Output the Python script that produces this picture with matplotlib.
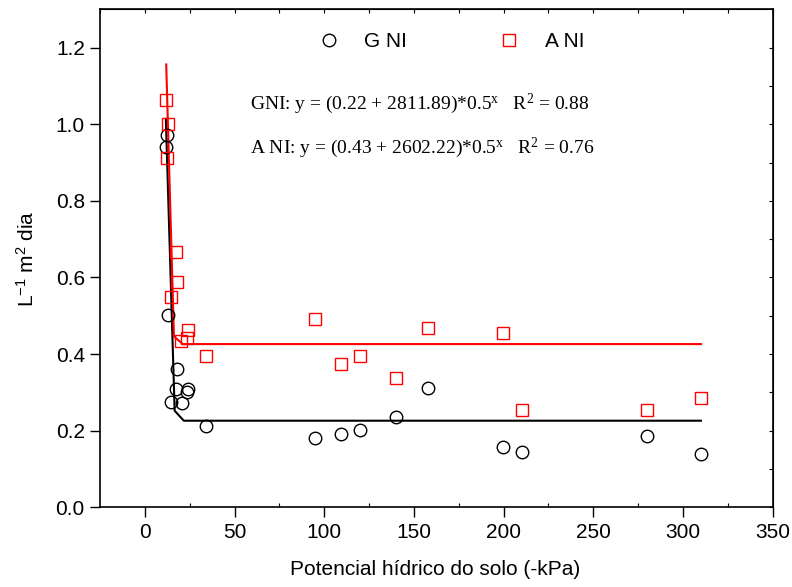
import matplotlib

matplotlib.use("Agg")
import matplotlib.pyplot as plt
from matplotlib import font_manager
from matplotlib.lines import Line2D

# pick a narrow sans if the system has one
names = {f.name for f in font_manager.fontManager.ttflist}
SANS = "Liberation Sans Narrow" if "Liberation Sans Narrow" in names else "Liberation Sans"
SERIF = "Liberation Serif"

plt.rcParams["font.family"] = [SANS, "DejaVu Sans"]
plt.rcParams["mathtext.fontset"] = "custom"
plt.rcParams["mathtext.rm"] = SERIF
plt.rcParams["mathtext.it"] = SERIF + ":italic"
plt.rcParams["mathtext.sf"] = SANS

# G NI (circles)
gni_x = [12.3, 11.7, 12.7, 17.8, 17.3, 24.0, 23.6, 14.3, 20.5, 33.8,
         94.8, 109.1, 119.8, 139.9, 157.7, 199.9, 210.0, 280.0, 310.0]
gni_y = [0.971, 0.940, 0.502, 0.361, 0.308, 0.310, 0.301, 0.275, 0.271, 0.211,
         0.182, 0.192, 0.202, 0.236, 0.311, 0.158, 0.144, 0.186, 0.138]
# A NI (squares)
ani_x = [11.7, 12.8, 12.3, 17.5, 18.1, 14.3, 24.0, 23.6, 19.9, 33.8,
         94.8, 109.1, 119.8, 139.9, 157.7, 199.9, 210.0, 280.0, 310.0]
ani_y = [1.062, 1.001, 0.911, 0.667, 0.589, 0.548, 0.462, 0.441, 0.435, 0.394,
         0.492, 0.374, 0.396, 0.338, 0.467, 0.456, 0.253, 0.255, 0.286]

# fitted curves, vertices
gfit_x = [11.7, 16.6, 21.7, 310.0]
gfit_y = [1.014, 0.252, 0.226, 0.226]
afit_x = [11.9, 16.2, 21.2, 310.0]
afit_y = [1.156, 0.446, 0.426, 0.426]

fig = plt.figure(figsize=(7.92, 5.87), dpi=100)
ax = fig.add_axes([0.1263, 0.1358, 0.8493, 0.8484])

ax.plot(gfit_x, gfit_y, "-", color="black", lw=1.5, zorder=2)
ax.plot(afit_x, afit_y, "-", color="red", lw=1.5, zorder=2)
ax.plot(gni_x, gni_y, "o", ms=9, mfc="none", mec="black", mew=1.0, zorder=3)
ax.plot(ani_x, ani_y, "s", ms=8, mfc="none", mec="red", mew=1.0, zorder=3)

ax.set_xlim(-25, 350)
ax.set_ylim(0, 1.3)
ax.set_xticks(range(0, 351, 50))
ax.set_yticks([0.0, 0.2, 0.4, 0.6, 0.8, 1.0, 1.2])
ax.set_yticklabels([f"{v:.1f}" for v in ax.get_yticks()])
ax.set_xticks(range(25, 350, 50), minor=True)
ax.tick_params(axis="both", which="major", direction="out", length=7,
               width=1.0, labelsize=15, pad=4)
ax.tick_params(axis="x", which="minor", direction="in", length=3, width=0.8)
for sp in ax.spines.values():
    sp.set_linewidth(1.2)

top = ax.secondary_xaxis("top")
top.set_xticks(range(-25, 351, 25))
top.tick_params(direction="in", length=3, width=0.8, labeltop=False)
right = ax.secondary_yaxis("right")
right.set_yticks([i / 10 for i in range(0, 13)])
right.tick_params(direction="in", length=3, width=0.8, labelright=False)

ax.set_xlabel("Potencial hídrico do solo (-kPa)", fontsize=15)
ax.xaxis.set_label_coords(0.4986, -0.105)
ax.set_ylabel(r"L$^{\mathsf{-1}}$ m$^{\mathsf{2}}$ dia", fontsize=15)
ax.yaxis.set_label_coords(-0.092, 0.5)

handles = [Line2D([], [], ls="none", marker="o", ms=9, mfc="none", mec="black"),
           Line2D([], [], ls="none", marker="s", ms=8, mfc="none", mec="red")]
ax.legend(handles, ["G NI", "A NI"], loc="center", bbox_to_anchor=(0.522, 0.935),
          ncol=2, frameon=False, fontsize=15, handlelength=1.0,
          handletextpad=1.2, columnspacing=4.4)

eq_kw = dict(transform=ax.transAxes, fontsize=14, family=SERIF, va="center", ha="left")
ax.text(0.223, 0.81, r"GNI: y = (0.22 + 2811.89)*0.5$^{\mathrm{x}}$   R$^{2}$ = 0.88", **eq_kw)
ax.text(0.223, 0.722, r"A NI: y = (0.43 + 2602.22)*0.5$^{\mathrm{x}}$   R$^{2}$ = 0.76", **eq_kw)

fig.savefig("out.png", dpi=100)
